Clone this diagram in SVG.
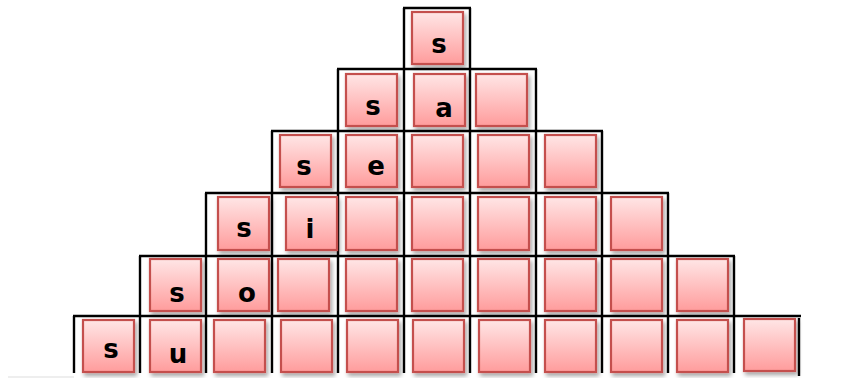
<svg xmlns="http://www.w3.org/2000/svg" width="856" height="378" viewBox="0 0 856 378">
<defs>
<linearGradient id="pink" x1="0" y1="0" x2="0" y2="1">
<stop offset="0" stop-color="#ffe6e6"/>
<stop offset="1" stop-color="#ff9c9c"/>
</linearGradient>
<filter id="sh" x="-20%" y="-20%" width="150%" height="150%">
<feDropShadow dx="2" dy="3" stdDeviation="2" flood-color="#000" flood-opacity="0.35"/>
</filter>
</defs>
<style>
.box{fill:url(#pink);stroke:#c4504e;stroke-width:2.2;filter:url(#sh)}
.fr{stroke:#000;stroke-width:2.4;fill:none}
.t{font-family:"DejaVu Sans",sans-serif;font-weight:bold;font-size:26px;fill:#000;text-anchor:middle}
</style>
<rect width="856" height="378" fill="#fff"/>
<g id="frame" class="fr">
<line x1="403" y1="8" x2="471" y2="8"/>
<line x1="337" y1="69" x2="537" y2="69"/>
<line x1="271" y1="131" x2="603" y2="131"/>
<line x1="205" y1="193" x2="669" y2="193"/>
<line x1="139" y1="256" x2="735" y2="256"/>
<line x1="73" y1="316" x2="801" y2="316"/>
<line x1="404" y1="8" x2="404" y2="373"/>
<line x1="470" y1="8" x2="470" y2="373"/>
<line x1="338" y1="69" x2="338" y2="373"/>
<line x1="536" y1="69" x2="536" y2="373"/>
<line x1="272" y1="131" x2="272" y2="373"/>
<line x1="602" y1="131" x2="602" y2="373"/>
<line x1="206" y1="193" x2="206" y2="373"/>
<line x1="668" y1="193" x2="668" y2="373"/>
<line x1="140" y1="256" x2="140" y2="373"/>
<line x1="734" y1="256" x2="734" y2="373"/>
<line x1="74" y1="316" x2="74" y2="373"/>
<line x1="799" y1="318" x2="799" y2="376"/>
</g>
<line x1="8" y1="377" x2="74" y2="377" stroke="#ddd" stroke-width="1"/>
<g id="row1">
<rect class="box" x="412" y="12" width="51" height="52"/>
<text class="t" x="439" y="53">s</text>
</g>
<g id="row2">
<rect class="box" x="346" y="74" width="51" height="52"/>
<rect class="box" x="414" y="74" width="51" height="52"/>
<rect class="box" x="476" y="74" width="51" height="52"/>
<text class="t" x="373" y="115">s</text>
<text class="t" x="444" y="117">a</text>
</g>
<g id="row3">
<rect class="box" x="280" y="135" width="51" height="52"/>
<rect class="box" x="346" y="135" width="51" height="52"/>
<rect class="box" x="412" y="135" width="51" height="52"/>
<rect class="box" x="478" y="135" width="51" height="52"/>
<rect class="box" x="545" y="135" width="51" height="52"/>
<text class="t" x="304" y="175">s</text>
<text class="t" x="376" y="175">e</text>
</g>
<g id="row4">
<rect class="box" x="218" y="197" width="51" height="53"/>
<rect class="box" x="286" y="197" width="51" height="53"/>
<rect class="box" x="346" y="197" width="51" height="53"/>
<rect class="box" x="412" y="197" width="51" height="53"/>
<rect class="box" x="478" y="197" width="51" height="53"/>
<rect class="box" x="545" y="197" width="51" height="53"/>
<rect class="box" x="611" y="197" width="51" height="53"/>
<text class="t" x="244" y="237">s</text>
<text class="t" x="310" y="238">i</text>
</g>
<g id="row5">
<rect class="box" x="150" y="259" width="51" height="52"/>
<rect class="box" x="218" y="259" width="51" height="52"/>
<rect class="box" x="278" y="259" width="51" height="52"/>
<rect class="box" x="346" y="259" width="51" height="52"/>
<rect class="box" x="412" y="259" width="51" height="52"/>
<rect class="box" x="478" y="259" width="51" height="52"/>
<rect class="box" x="545" y="259" width="51" height="52"/>
<rect class="box" x="611" y="259" width="51" height="52"/>
<rect class="box" x="677" y="259" width="51" height="52"/>
<text class="t" x="177" y="302">s</text>
<text class="t" x="247" y="302">o</text>
</g>
<g id="row6">
<rect class="box" x="83" y="320" width="51" height="52"/>
<rect class="box" x="150" y="320" width="51" height="52"/>
<rect class="box" x="214" y="320" width="51" height="52"/>
<rect class="box" x="281" y="320" width="51" height="52"/>
<rect class="box" x="347" y="320" width="51" height="52"/>
<rect class="box" x="413" y="320" width="51" height="52"/>
<rect class="box" x="479" y="320" width="51" height="52"/>
<rect class="box" x="545" y="320" width="51" height="52"/>
<rect class="box" x="611" y="320" width="51" height="52"/>
<rect class="box" x="677" y="320" width="51" height="52"/>
<rect class="box" x="744" y="319" width="51" height="52"/>
<text class="t" x="111" y="358">s</text>
<text class="t" x="178" y="363">u</text>
</g>
</svg>
